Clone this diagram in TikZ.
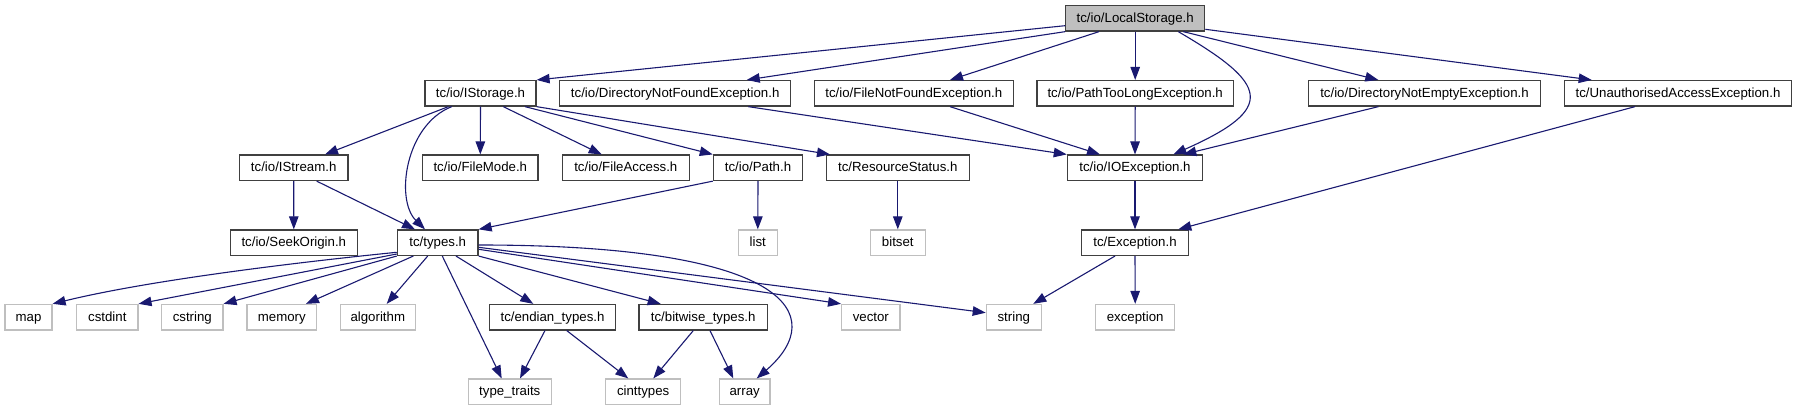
\documentclass[tikz,border=0pt]{standalone}
\usepackage{fontspec}
\setmainfont{Liberation Sans}
\usetikzlibrary{arrows.meta}
\definecolor{edgec}{HTML}{191970}
\definecolor{gA}{HTML}{404040}
\definecolor{gB}{HTML}{BFBFBF}
\begin{document}
\begin{tikzpicture}[x=1pt,y=-1pt,
  proj/.style={draw=gA, line width=1.2pt, fill=white, inner sep=0pt, minimum height=25.5pt,
     text height=10.5pt, text depth=2.5pt, font=\fontsize{13.25}{15}\selectfont},
  sys/.style={proj, draw=gB},
  mainnode/.style={proj, fill=gB},
  dep/.style={draw=edgec, line width=1.1pt, -{Triangle[length=13pt,width=9.5pt]}}]
\useasboundingbox (0,0) rectangle (1797,411);
% row 0
\node[mainnode, minimum width=139pt] (L) at (1135.2,18.3) {tc/io/LocalStorage.h};
% row 1
\node[proj, minimum width=111pt] (istorage) at (480.5,93.3) {tc/io/IStorage.h};
\node[proj, minimum width=231pt] (dnf) at (675.2,93.3) {tc/io/DirectoryNotFoundException.h};
\node[proj, minimum width=199pt] (fnf) at (913.8,93.3) {tc/io/FileNotFoundException.h};
\node[proj, minimum width=196.3pt] (ptl) at (1135.2,93.3) {tc/io/PathTooLongException.h};
\node[proj, minimum width=232.3pt] (dne) at (1424.5,93.3) {tc/io/DirectoryNotEmptyException.h};
\node[proj, minimum width=227.3pt] (ua) at (1678,93.3) {tc/UnauthorisedAccessException.h};
% row 2
\node[proj, minimum width=108.7pt] (istream) at (293.7,167.8) {tc/io/IStream.h};
\node[proj, minimum width=115.3pt] (filemode) at (480.3,167.8) {tc/io/FileMode.h};
\node[proj, minimum width=127pt] (fileaccess) at (625.8,167.8) {tc/io/FileAccess.h};
\node[proj, minimum width=89.3pt] (path) at (758,167.8) {tc/io/Path.h};
\node[proj, minimum width=143pt] (resstat) at (897.8,167.8) {tc/ResourceStatus.h};
\node[proj, minimum width=135.3pt] (ioex) at (1135,167.8) {tc/io/IOException.h};
% row 3
\node[proj, minimum width=127pt] (seek) at (293.8,242.7) {tc/io/SeekOrigin.h};
\node[proj, minimum width=80.7pt] (types) at (437.7,242.7) {tc/types.h};
\node[sys, minimum width=39pt] (list) at (757.8,242.7) {list};
\node[sys, minimum width=55pt] (bitset) at (897.8,242.7) {bitset};
\node[proj, minimum width=107.3pt] (exc) at (1135,242.7) {tc/Exception.h};
% row 4
\node[sys, minimum width=47pt] (map) at (28.5,317.2) {map};
\node[sys, minimum width=61.3pt] (cstdint) at (107.3,317.2) {cstdint};
\node[sys, minimum width=61.3pt] (cstring) at (192.3,317.2) {cstring};
\node[sys, minimum width=69.7pt] (memory) at (281.8,317.2) {memory};
\node[sys, minimum width=75pt] (algorithm) at (377.8,317.2) {algorithm};
\node[proj, minimum width=125.7pt] (endian) at (552.5,317.2) {tc/endian\_types.h};
\node[proj, minimum width=128.3pt] (bitwise) at (703.2,317.2) {tc/bitwise\_types.h};
\node[sys, minimum width=58.3pt] (vector) at (870.8,317.2) {vector};
\node[sys, minimum width=55pt] (string) at (1013.8,317.2) {string};
\node[sys, minimum width=79pt] (exception) at (1135.2,317.2) {exception};
% row 5
\node[sys, minimum width=83pt] (typetraits) at (509.8,391.8) {type\_traits};
\node[sys, minimum width=75pt] (cinttypes) at (643.2,391.8) {cinttypes};
\node[sys, minimum width=50.7pt] (array) at (744.7,391.8) {array};

% LocalStorage edges
\draw[dep] ([yshift=-7.4pt]L.west) -- (istorage.north east);
\draw[dep] (L.south west) -- ([xshift=71.5pt]dnf.north);
\draw[dep] ([xshift=-36.2pt]L.south) -- ([xshift=36.2pt]fnf.north);
\draw[dep] (L.south) -- (ptl.north);
\draw[dep] ([xshift=43.1pt]L.south) .. controls (1268,84) and (1278,108) .. ([xshift=38.3pt]ioex.north);
\draw[dep] ([xshift=48.1pt]L.south) -- ([xshift=-46.2pt]dne.north);
\draw[dep] ([yshift=-11pt]L.east) -- ([xshift=-86.3pt]ua.north);
% IStorage edges
\draw[dep] ([xshift=-32.2pt]istorage.south) -- ([xshift=31.3pt]istream.north);
\draw[dep] ([xshift=-28.8pt]istorage.south) .. controls (405,125) and (395,200) .. ([xshift=-12.7pt]types.north);
\draw[dep] (istorage.south) -- (filemode.north);
\draw[dep] ([xshift=22.8pt]istorage.south) -- ([xshift=-24.1pt]fileaccess.north);
\draw[dep] ([xshift=44.5pt]istorage.south) -- (path.north west);
\draw[dep] (istorage.south east) -- ([xshift=-67.8pt]resstat.north);
% exceptions
\draw[dep] ([xshift=73.1pt]dnf.south) -- (ioex.north west);
\draw[dep] ([xshift=36.2pt]fnf.south) -- ([xshift=-35pt]ioex.north);
\draw[dep] (ptl.south) -- (ioex.north);
\draw[dep] ([xshift=-46.1pt]dne.south) -- ([xshift=48.3pt]ioex.north);
\draw[dep] ([xshift=-43pt]ua.south) -- ([xshift=43.3pt]exc.north);
\draw[dep] (ioex.south) -- (exc.north);
\draw[dep] ([xshift=-20pt]exc.south) -- ([xshift=19.5pt]string.north);
\draw[dep] (exc.south) -- (exception.north);
% row 2 -> row 3
\draw[dep] (istream.south) -- (seek.north);
\draw[dep] ([xshift=23pt]istream.south) -- ([xshift=-22.7pt]types.north);
\draw[dep] (path.south west) -- (types.north east);
\draw[dep] (path.south) -- (list.north);
\draw[dep] (resstat.south) -- (bitset.north);
% types edges
\draw[dep] ([yshift=-9.6pt]types.west) .. controls (300,262) and (150,280) .. (map.north east);
\draw[dep] ([yshift=-11.3pt]types.west) -- (cstdint.north east);
\draw[dep] (types.south west) -- (cstring.north east);
\draw[dep] ([xshift=-24.4pt]types.south) -- ([xshift=24.2pt]memory.north);
\draw[dep] ([xshift=-10pt]types.south) -- ([xshift=8.9pt]algorithm.north);
\draw[dep] ([xshift=4.6pt]types.south) -- ([xshift=-8.1pt]typetraits.north);
\draw[dep] ([xshift=18.3pt]types.south) -- ([xshift=-19.2pt]endian.north);
\draw[dep] (types.south east) -- ([xshift=-42.5pt]bitwise.north);
\draw[dep] ([yshift=-6.6pt]types.east) -- (vector.north west);
\draw[dep] ([yshift=-4.6pt]types.east) -- ([yshift=4.5pt]string.west);
\draw[dep] ([yshift=-2.3pt]types.east) .. controls (790,245) and (830,315) .. ([xshift=12pt]array.north);
% row 4 -> row 5
\draw[dep] ([xshift=-7.5pt]endian.south) -- ([xshift=10.2pt]typetraits.north);
\draw[dep] ([xshift=14.2pt]endian.south) -- ([xshift=-14.9pt]cinttypes.north);
\draw[dep] ([xshift=-9.9pt]bitwise.south) -- ([xshift=10.1pt]cinttypes.north);
\draw[dep] ([xshift=6.8pt]bitwise.south) -- ([xshift=-11.4pt]array.north);
\end{tikzpicture}
\end{document}
